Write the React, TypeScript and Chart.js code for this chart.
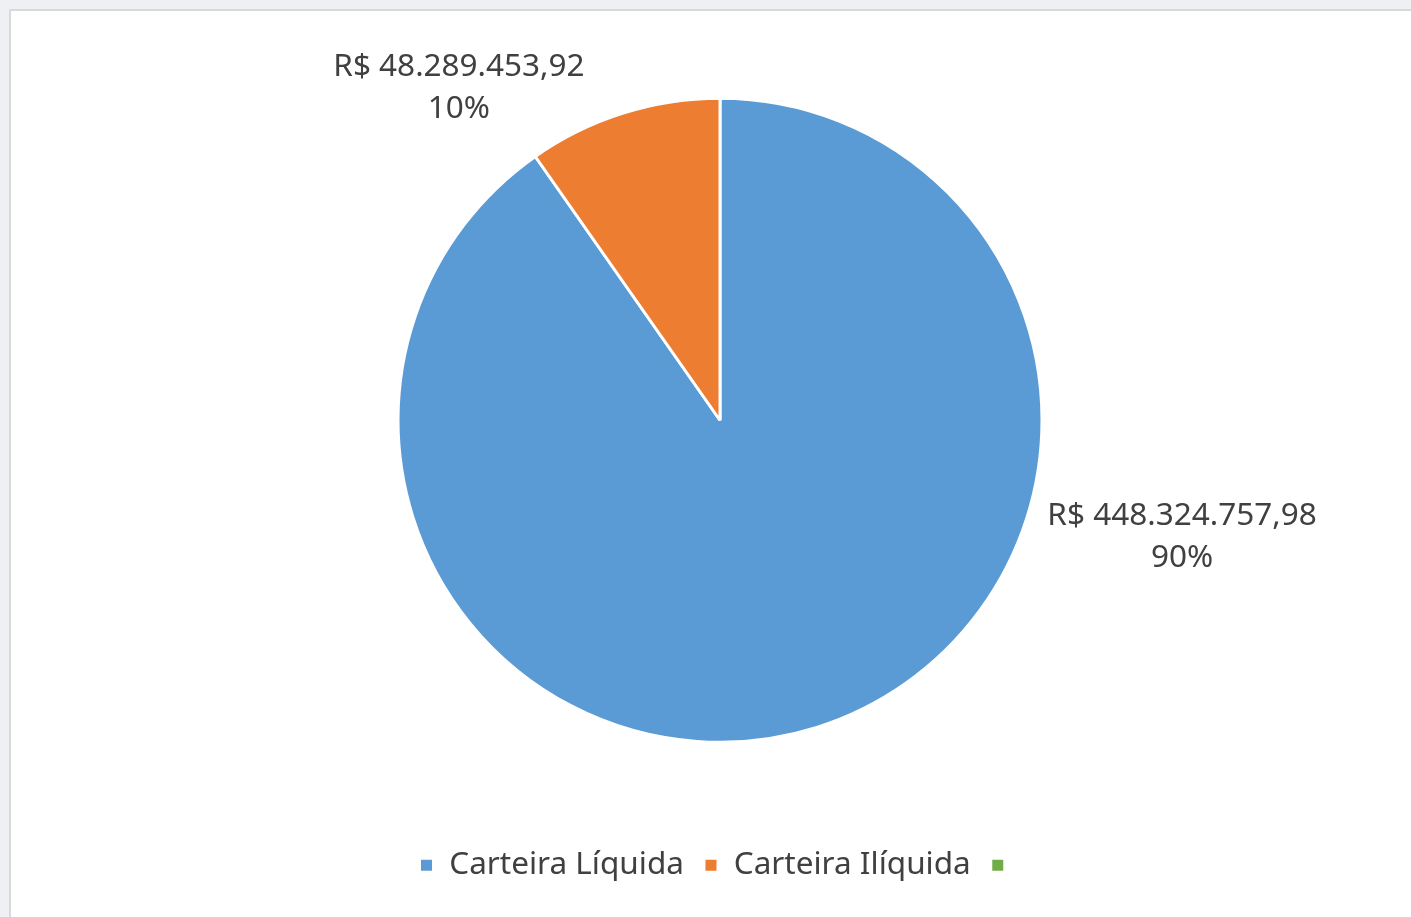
import React, { useEffect, useRef } from "react";
import { Chart, registerables } from "chart.js";

Chart.register(...registerables);

const categories: string[] = ["Carteira Líquida", "Carteira Ilíquida", ""];
const values: number[] = [448324757.98, 48289453.92, 0];
const colors: string[] = ["#5b9bd5", "#ed7d31", "#70ad47"];
// label placement (angle in degrees from +x axis, distance as factor of radius)
const labelAngles: number[] = [14.2, -128.2, 0];
const labelDistances: number[] = [1.48, 1.311, 0];

const FONT = "'Noto Sans', 'Open Sans', sans-serif";
const TEXT_COLOR = "#404040";

function formatBRL(v: number): string {
  const fixed = v.toFixed(2);
  const [intPart, dec] = fixed.split(".");
  const withDots = intPart.replace(/\B(?=(\d{3})+(?!\d))/g, ".");
  return "R$ " + withDots + "," + dec;
}

const labelPlugin = {
  id: "pieLabels",
  afterDatasetsDraw(chart: any) {
    const ctx = chart.ctx;
    const meta = chart.getDatasetMeta(0);
    const data = chart.data.datasets[0].data as number[];
    const total = data.reduce((a, b) => a + b, 0);
    ctx.save();
    ctx.font = `31.5px ${FONT}`;
    ctx.fillStyle = TEXT_COLOR;
    ctx.textAlign = "center";
    ctx.textBaseline = "middle";
    meta.data.forEach((arc: any, i: number) => {
      const v = data[i];
      if (!v) return;
      const { x, y, outerRadius } = arc.getProps(["x", "y", "outerRadius"], true);
      const a = (labelAngles[i] * Math.PI) / 180;
      const d = outerRadius * labelDistances[i];
      const cx = x + Math.cos(a) * d;
      const cy = y + Math.sin(a) * d;
      const pct = Math.round((v / total) * 100) + "%";
      ctx.fillText(formatBRL(v), cx, cy - 21);
      ctx.fillText(pct, cx, cy + 21);
    });
    ctx.restore();
  },
};

export default function App() {
  const canvasRef = useRef<HTMLCanvasElement | null>(null);

  useEffect(() => {
    if (!canvasRef.current) return;
    const chart = new Chart(canvasRef.current, {
      type: "pie",
      data: {
        labels: categories,
        datasets: [
          {
            data: values,
            backgroundColor: colors,
            borderColor: "#ffffff",
            borderWidth: 3,
            radius: 322,
          },
        ],
      },
      options: {
        responsive: false,
        animation: false,
        layout: { padding: { top: 0, bottom: 26, left: 18, right: 0 } },
        plugins: {
          legend: {
            display: true,
            position: "bottom",
            labels: {
              boxWidth: 14,
              boxHeight: 14,
              padding: 20,
              color: TEXT_COLOR,
              font: { size: 31.5, family: FONT },
            },
          },
          tooltip: { enabled: false },
        },
      },
      plugins: [labelPlugin],
    });
    return () => chart.destroy();
  }, []);

  return (
    <div
      style={{
        position: "fixed",
        left: 0,
        top: 0,
        width: 1411,
        height: 917,
        background: "#eef0f3",
        overflow: "hidden",
      }}
    >
      <div
        style={{
          position: "absolute",
          left: 9,
          top: 9,
          right: 0,
          bottom: 0,
          borderTop: "2px solid #d9d9d9",
          borderLeft: "2px solid #d9d9d9",
          background: "#ffffff",
        }}
      >
        <canvas
          ref={canvasRef}
          width={1400}
          height={906}
          style={{ display: "block", width: 1400, height: 906 }}
        />
      </div>
    </div>
  );
}
